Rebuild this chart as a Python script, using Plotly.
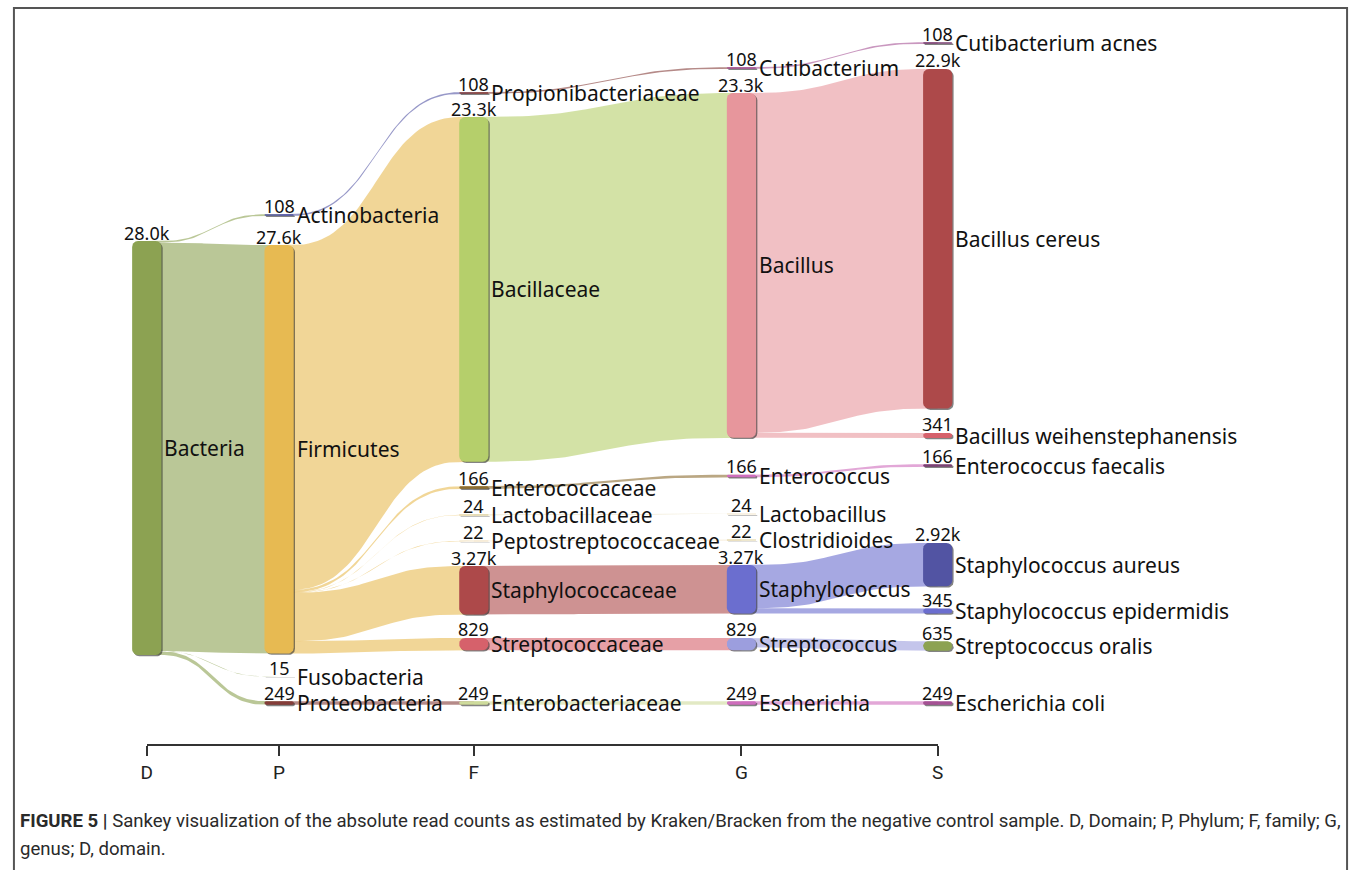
import numpy as np
import plotly.graph_objects as go

# ---------------- data (read counts per taxon) ----------------
RANKS = ["D", "P", "F", "G", "S"]

NODE_NAMES = [
    "Bacteria",
    "Actinobacteria", "Firmicutes", "Fusobacteria", "Proteobacteria",
    "Propionibacteriaceae", "Bacillaceae", "Enterococcaceae", "Lactobacillaceae",
    "Peptostreptococcaceae", "Staphylococcaceae", "Streptococcaceae", "Enterobacteriaceae",
    "Cutibacterium", "Bacillus", "Enterococcus", "Lactobacillus", "Clostridioides",
    "Staphylococcus", "Streptococcus", "Escherichia",
    "Cutibacterium acnes", "Bacillus cereus", "Bacillus weihenstephanensis",
    "Enterococcus faecalis", "Staphylococcus aureus", "Staphylococcus epidermidis",
    "Streptococcus oralis", "Escherichia coli",
]
NODE_RANK = ["D"] + ["P"] * 4 + ["F"] * 8 + ["G"] * 8 + ["S"] * 8
NODE_READS = [
    27961,
    108, 27589, 15, 249,
    108, 23280, 166, 24, 22, 3268, 829, 249,
    108, 23280, 166, 24, 22, 3268, 829, 249,
    108, 22939, 341, 166, 2923, 345, 635, 249,
]
NODE_PARENT = [
    None,
    "Bacteria", "Bacteria", "Bacteria", "Bacteria",
    "Actinobacteria", "Firmicutes", "Firmicutes", "Firmicutes", "Firmicutes",
    "Firmicutes", "Firmicutes", "Proteobacteria",
    "Propionibacteriaceae", "Bacillaceae", "Enterococcaceae", "Lactobacillaceae",
    "Peptostreptococcaceae", "Staphylococcaceae", "Streptococcaceae", "Enterobacteriaceae",
    "Cutibacterium", "Bacillus", "Bacillus", "Enterococcus", "Staphylococcus",
    "Staphylococcus", "Streptococcus", "Escherichia",
]

CAPTION_1 = ("<b>FIGURE 5 |</b> Sankey visualization of the absolute read counts as estimated by "
             "Kraken/Bracken from the negative control sample. D, Domain; P, Phylum; F, family; G,")
CAPTION_2 = "genus; D, domain."

# ---------------- layout (pixel space) ----------------
W, H = 1360, 870
RANK_X = {"D": 142, "P": 275.5, "F": 472, "G": 742, "S": 940}
NODE_W = 29.5
LARGEST_NODE_PX = 414.0
AXIS_Y = 745
# vertical centre of each node (result of the sankey relaxation in the original)
NODE_CY = {
    "Bacteria": 448, "Actinobacteria": 215, "Firmicutes": 449.3, "Fusobacteria": 676.5,
    "Proteobacteria": 703, "Propionibacteriaceae": 93, "Bacillaceae": 289.4,
    "Enterococcaceae": 487.5, "Lactobacillaceae": 515, "Peptostreptococcaceae": 541,
    "Staphylococcaceae": 590.2, "Streptococcaceae": 644.1, "Enterobacteriaceae": 703,
    "Cutibacterium": 68, "Bacillus": 265.4, "Enterococcus": 476, "Lactobacillus": 514,
    "Clostridioides": 540, "Staphylococcus": 589.2, "Streptococcus": 644.1,
    "Escherichia": 703, "Cutibacterium acnes": 43, "Bacillus cereus": 238.8,
    "Bacillus weihenstephanensis": 435.5, "Enterococcus faecalis": 465.5,
    "Staphylococcus aureus": 564.6, "Staphylococcus epidermidis": 611,
    "Streptococcus oralis": 646, "Escherichia coli": 703,
}
# ---------------- styles ----------------
NODE_COLOR = {
    "Bacteria": "#8ca252", "Actinobacteria": "#5254a3", "Firmicutes": "#e7ba52",
    "Fusobacteria": "#cedb9c", "Proteobacteria": "#843c39",
    "Propionibacteriaceae": "#843c39", "Bacillaceae": "#b5cf6b", "Enterococcaceae": "#8c6d31",
    "Lactobacillaceae": "#bd9e39", "Peptostreptococcaceae": "#e7cb94",
    "Staphylococcaceae": "#ad494a", "Streptococcaceae": "#d6616b", "Enterobacteriaceae": "#cedb9c",
    "Cutibacterium": "#a55194", "Bacillus": "#e7969c", "Enterococcus": "#ce6dbd",
    "Lactobacillus": "#e7cb94", "Clostridioides": "#bd9e39", "Staphylococcus": "#6b6ecf",
    "Streptococcus": "#9c9ede", "Escherichia": "#ce6dbd",
    "Cutibacterium acnes": "#7b4173", "Bacillus cereus": "#ad494a",
    "Bacillus weihenstephanensis": "#d6616b", "Enterococcus faecalis": "#7b4173",
    "Staphylococcus aureus": "#5254a3", "Staphylococcus epidermidis": "#6b6ecf",
    "Streptococcus oralis": "#8ca252", "Escherichia coli": "#a55194",
}
LINK_ALPHA = 0.6
LABEL_FONT = "Noto Sans, Open Sans, DejaVu Sans, sans-serif"
CAPTION_FONT = "Roboto, Liberation Sans, sans-serif"


def rgba(hex_color, a):
    h = hex_color.lstrip("#")
    r, g, b = int(h[0:2], 16), int(h[2:4], 16), int(h[4:6], 16)
    return f"rgba({r},{g},{b},{a})"


def fmt(v):
    return format(v / 1000, "#.3g") + "k" if v >= 1000 else str(v)


def rounded_rect(x0, y0, x1, y1, r):
    r = max(0.0, min(r, (x1 - x0) / 2, (y1 - y0) / 2))
    pts = []
    corners = [(x1 - r, y0 + r, -90, 0), (x1 - r, y1 - r, 0, 90),
               (x0 + r, y1 - r, 90, 180), (x0 + r, y0 + r, 180, 270)]
    for cx, cy, a0, a1 in corners:
        for a in np.linspace(np.radians(a0), np.radians(a1), 8):
            pts.append((cx + r * np.cos(a), cy + r * np.sin(a)))
    pts.append(pts[0])
    return [p[0] for p in pts], [p[1] for p in pts]


def band(xs0, xa, ya0, ya1, xb, yb0, yb1, xt1, n=48):
    t = np.linspace(0, 1, n)
    xm = (xa + xb) / 2
    bx = (1 - t) ** 3 * xa + 3 * (1 - t) ** 2 * t * xm + 3 * (1 - t) * t ** 2 * xm + t ** 3 * xb
    top = (1 - t) ** 3 * ya0 + 3 * (1 - t) ** 2 * t * ya0 + 3 * (1 - t) * t ** 2 * yb0 + t ** 3 * yb0
    bot = (1 - t) ** 3 * ya1 + 3 * (1 - t) ** 2 * t * ya1 + 3 * (1 - t) * t ** 2 * yb1 + t ** 3 * yb1
    xs = [xs0] + list(bx) + [xt1, xt1] + list(bx[::-1]) + [xs0, xs0]
    ys = [ya0] + list(top) + [yb0, yb1] + list(bot[::-1]) + [ya1, ya0]
    return xs, ys


# ---------------- geometry from the data ----------------
k = LARGEST_NODE_PX / max(NODE_READS)
reads = dict(zip(NODE_NAMES, NODE_READS))
rank = dict(zip(NODE_NAMES, NODE_RANK))
nodes = {}
for name in NODE_NAMES:
    h = reads[name] * k
    cx = RANK_X[rank[name]]
    cy = NODE_CY[name]
    nodes[name] = dict(x0=cx - NODE_W / 2, x1=cx + NODE_W / 2, cx=cx,
                       y0=cy - h / 2, y1=cy + h / 2, cy=cy, h=h)

links = [(p, c, reads[c]) for c, p in zip(NODE_NAMES, NODE_PARENT) if p is not None]
out_off = {n: nodes[n]["y0"] for n in NODE_NAMES}
in_off = {n: nodes[n]["y0"] for n in NODE_NAMES}
link_geo = []
for src in NODE_NAMES:
    outs = sorted([l for l in links if l[0] == src], key=lambda l: nodes[l[1]]["cy"])
    for s, t, v in outs:
        w = v * k
        sa0 = out_off[s]
        out_off[s] += w
        tb0 = in_off[t]
        in_off[t] += w
        link_geo.append((s, t, sa0, sa0 + w, tb0, tb0 + w))

fig = go.Figure()

for s, t, a0, a1, b0, b1 in link_geo:
    xs, ys = band(nodes[s]["cx"], nodes[s]["x1"], a0, a1, nodes[t]["x0"], b0, b1, nodes[t]["cx"])
    fig.add_trace(go.Scatter(x=xs, y=ys, mode="lines", fill="toself",
                             fillcolor=rgba(NODE_COLOR[s], LINK_ALPHA),
                             line=dict(width=0), hoverinfo="skip", showlegend=False))

for name in NODE_NAMES:
    n = nodes[name]
    sx, sy = rounded_rect(n["x0"] + 1.3, n["y0"] + 1.3, n["x1"] + 1.3, n["y1"] + 1.3, 6)
    fig.add_trace(go.Scatter(x=sx, y=sy, mode="lines", fill="toself",
                             fillcolor="rgba(30,30,30,0.55)", line=dict(width=0),
                             hoverinfo="skip", showlegend=False))
    rx, ry = rounded_rect(n["x0"], n["y0"], n["x1"], n["y1"], 6)
    fig.add_trace(go.Scatter(x=rx, y=ry, mode="lines", fill="toself",
                             fillcolor=NODE_COLOR[name], line=dict(width=0),
                             name=name, hoverinfo="name", showlegend=False))

# dummy trace so the rank axis is drawn
fig.add_trace(go.Scatter(x=[], y=[], xaxis="x2", yaxis="y", showlegend=False))

annotations = []
for name in NODE_NAMES:
    n = nodes[name]
    annotations.append(dict(x=n["x1"] + 1, y=n["cy"], xref="x", yref="y", text=name,
                            showarrow=False, xanchor="left", yanchor="middle",
                            font=dict(family=LABEL_FONT, size=21, color="#111")))
    annotations.append(dict(x=n["cx"], y=n["y0"] - 8.5, xref="x", yref="y",
                            text=fmt(reads[name]), showarrow=False,
                            xanchor="center", yanchor="middle",
                            font=dict(family=LABEL_FONT, size=18, color="#111")))

annotations.append(dict(x=12, y=821, xref="x", yref="y", text=CAPTION_1, showarrow=False,
                        xanchor="left", yanchor="middle",
                        font=dict(family=CAPTION_FONT, size=18.6, color="#2a2a2a")))
annotations.append(dict(x=12, y=849, xref="x", yref="y", text=CAPTION_2, showarrow=False,
                        xanchor="left", yanchor="middle",
                        font=dict(family=CAPTION_FONT, size=18.6, color="#2a2a2a")))

col_x = [RANK_X[r] for r in RANKS]
fig.update_layout(
    width=W, height=H, autosize=False,
    margin=dict(l=0, r=0, t=0, b=0),
    paper_bgcolor="white", plot_bgcolor="rgba(0,0,0,0)",
    xaxis=dict(range=[0, W], visible=False, domain=[0, 1], fixedrange=True),
    yaxis=dict(range=[H, 0], visible=False, domain=[0, 1], fixedrange=True),
    xaxis2=dict(domain=[col_x[0] / W, col_x[-1] / W], range=[col_x[0], col_x[-1]],
                anchor="free", position=1 - AXIS_Y / H, side="bottom",
                tickmode="array", tickvals=col_x, ticktext=RANKS,
                ticks="outside", ticklen=10, tickwidth=2, tickcolor="#333",
                showline=True, linewidth=2, linecolor="#333",
                showgrid=False, zeroline=False, fixedrange=True,
                tickfont=dict(family=CAPTION_FONT, size=19, color="#222")),
    shapes=[dict(type="rect", xref="x", yref="y", x0=8, y0=8, x1=1353, y1=900,
                 line=dict(color="#555", width=2), fillcolor="rgba(0,0,0,0)", layer="above")],
    annotations=annotations,
    showlegend=False,
)

fig.write_html("out.html", config={"displayModeBar": False},
               post_script="document.body.style.margin='0px';")
